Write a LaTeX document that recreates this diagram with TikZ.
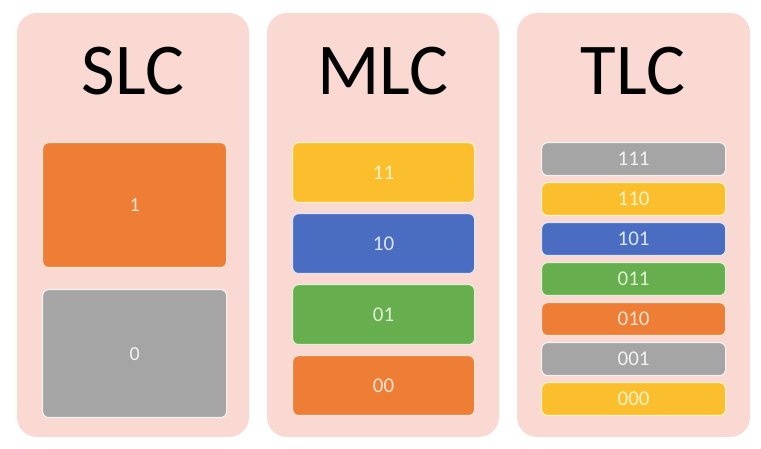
\documentclass[tikz,border=0pt]{standalone}
\usepackage{fontspec}
\setmainfont{Carlito}
\definecolor{panelc}{HTML}{F9D9D1}
\definecolor{orangec}{HTML}{EE7D36}
\definecolor{grayc}{HTML}{A5A5A5}
\definecolor{yellowc}{HTML}{FBBF2E}
\definecolor{bluec}{HTML}{4A6DC2}
\definecolor{greenc}{HTML}{67AE4E}
\definecolor{orangetx}{HTML}{FCE3D2}
\definecolor{graytx}{HTML}{F2F2F2}
\definecolor{yellowtx}{HTML}{FFF2C6}
\definecolor{bluetx}{HTML}{DCE6F8}
\definecolor{greentx}{HTML}{DFF2D4}
\newcommand{\slcfont}{\fontsize{20}{22}\selectfont}
\newcommand{\cellfont}{\fontsize{21}{23}\selectfont}
\begin{document}
\begin{tikzpicture}[x=1pt,y=1pt,
  panel/.style={fill=panelc,rounded corners=20pt},
  title/.style={font=\fontsize{73}{77}\selectfont,text=black,anchor=base,inner sep=0pt},
  cell/.style={rounded corners=6pt,line width=1.2pt,anchor=north west,inner sep=0pt,minimum width=#1},
  cellO/.style={fill=orangec,draw=orangetx,text=orangetx},
  cellG/.style={fill=grayc,draw=graytx,text=graytx},
  cellY/.style={fill=yellowc,draw=yellowtx,text=yellowtx},
  cellB/.style={fill=bluec,draw=bluetx,text=bluetx},
  cellN/.style={fill=greenc,draw=greentx,text=greentx}]
\useasboundingbox[fill=white] (0,0) rectangle (761,449);
% panels
\fill[panel] (17,12) rectangle (249,436);
\fill[panel] (267,12) rectangle (499,436);
\fill[panel] (517,12) rectangle (750,436);
\node[title] (tslc) at (133,354) {SLC};
\node[title] (tmlc) at (383,354) {MLC};
\node[title] (ttlc) at (633,354) {TLC};
% SLC
\node[cell=184pt,cellO,minimum height=125pt] (s1) at (42,307) {\slcfont 1};
\node[cell=184pt,cellG,minimum height=128pt] (s0) at (42,160) {\slcfont 0};
% MLC
\node[cell=182pt,cellY,minimum height=60pt] (m11) at (292,307) {\cellfont 11};
\node[cell=182pt,cellB,minimum height=60pt] (m10) at (292,236) {\cellfont 10};
\node[cell=182pt,cellN,minimum height=60pt] (m01) at (292,165) {\cellfont 01};
\node[cell=182pt,cellO,minimum height=60pt] (m00) at (292,94) {\cellfont 00};
% TLC
\node[cell=184pt,cellG,minimum height=33pt] (t111) at (541,307) {\cellfont 111};
\node[cell=184pt,cellY,minimum height=33pt] (t110) at (541,267) {\cellfont 110};
\node[cell=184pt,cellB,minimum height=33pt] (t101) at (541,227) {\cellfont 101};
\node[cell=184pt,cellN,minimum height=33pt] (t011) at (541,187) {\cellfont 011};
\node[cell=184pt,cellO,minimum height=33pt] (t010) at (541,147) {\cellfont 010};
\node[cell=184pt,cellG,minimum height=33pt] (t001) at (541,107) {\cellfont 001};
\node[cell=184pt,cellY,minimum height=33pt] (t000) at (541,67) {\cellfont 000};
\end{tikzpicture}
\end{document}
